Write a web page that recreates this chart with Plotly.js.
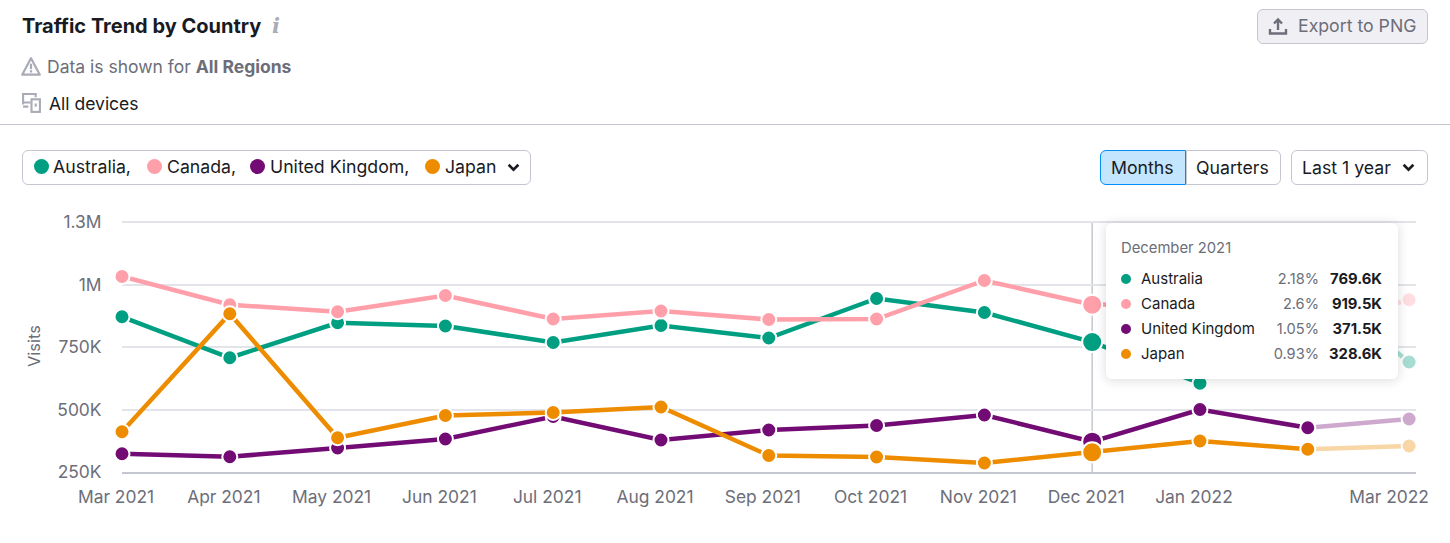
<!DOCTYPE html>
<html><head><meta charset="utf-8">
<script src="https://cdn.plot.ly/plotly-3.0.1.min.js"></script>
<style>
html,body{margin:0;padding:0;background:#fff;width:1450px;height:543px;overflow:hidden;font-family:Inter,sans-serif;}
#chart{position:absolute;left:0;top:0;width:1450px;height:543px;}
.t{position:absolute;white-space:nowrap;line-height:20px;color:#191B23;font-size:17.5px;}
.c{font-size:17.7px;}
.box{position:absolute;box-sizing:border-box;border:1px solid #C4C7CF;border-radius:6px;background:#fff;}
.dot{position:absolute;border-radius:50%;}
svg.i{position:absolute;overflow:visible;}
#tip{position:absolute;left:1106px;top:223px;width:292px;height:156px;background:#fff;border-radius:6px;box-shadow:0 1px 12px rgba(25,27,35,.16);}
</style></head><body>
<div id="chart"></div>

<div class="t" style="left:22px;top:16px;font-size:20px;font-weight:700;line-height:20px">Traffic Trend by Country</div>
<div class="t" style="left:272px;top:16px;font-size:21px;font-weight:700;font-style:italic;font-family:'DejaVu Serif',serif;color:#A9ABB6">i</div>
<svg class="i" style="left:21px;top:56px" width="20" height="22" viewBox="0 0 18 20"><path d="M9 2 L17 17 H1 Z" fill="none" stroke="#A9ABB6" stroke-width="2" stroke-linejoin="round"/><rect x="8" y="7" width="2" height="5" fill="#A9ABB6"/><rect x="8" y="13" width="2" height="2" fill="#A9ABB6"/></svg>
<div class="t" style="left:47px;top:57px;color:#6C6E79">Data is shown for <b>All Regions</b></div>
<svg class="i" style="left:21px;top:93px" width="21" height="21" viewBox="0 0 20 20"><path d="M9 9H2V1H14V4" fill="none" stroke="#A9ABB6" stroke-width="2"/><path d="M2 13H7M2 9V11" fill="none" stroke="#A9ABB6" stroke-width="2"/><rect x="10" y="6" width="8" height="12" fill="none" stroke="#A9ABB6" stroke-width="2"/><rect x="13" y="10" width="2" height="3" fill="#A9ABB6"/></svg>
<div class="t" style="left:49px;top:94px">All devices</div>
<div style="position:absolute;left:0;top:124px;width:1450px;height:1px;background:#C4C7CF"></div>

<div class="box" style="left:1257px;top:9px;width:171px;height:35px;background:#F0F0F4"></div>
<svg class="i" style="left:1269px;top:17px" width="18" height="18" viewBox="0 0 18 18"><path d="M9 13V3M5 6.5L9 2.5L13 6.5" fill="none" stroke="#6C6E79" stroke-width="2.4"/><path d="M1 12V16.5H17V12" fill="none" stroke="#6C6E79" stroke-width="2.4"/></svg>
<div class="t c" style="left:1298px;top:16px;color:#6C6E79">Export to PNG</div>

<div class="box" style="left:22px;top:150px;width:509px;height:35px"></div>
<div id="legend"></div>
<svg class="i" style="left:507px;top:163px" width="13" height="9" viewBox="0 0 12 8"><path d="M1.5 1.5L6 6L10.5 1.5" fill="none" stroke="#191B23" stroke-width="2.4"/></svg>

<div class="box" style="left:1186px;top:150px;width:95px;height:35px;border-radius:0 6px 6px 0"></div>
<div class="box" style="left:1100px;top:150px;width:86px;height:35px;background:#C4E5FE;border-color:#008FF8;border-radius:6px 0 0 6px"></div>
<div class="t c" style="left:1111px;top:158px">Months</div>
<div class="t c" style="left:1196px;top:158px">Quarters</div>
<div class="box" style="left:1291px;top:150px;width:137px;height:35px"></div>
<div class="t c" style="left:1302px;top:158px">Last 1 year</div>
<svg class="i" style="left:1402px;top:163px" width="13" height="9" viewBox="0 0 12 8"><path d="M1.5 1.5L6 6L10.5 1.5" fill="none" stroke="#191B23" stroke-width="2.4"/></svg>

<div id="tip"></div>

<script>
// Month slots as the chart spaces them: equal steps, with the last (partial) month a little short
const monthSlots = [0,1,2,3,4,5,6,7,8,9,10,11,11.94];
const australia = [871000,707000,847000,834000,768000,836000,786000,944000,888000,769600,605000,1010000,690000];
const canada    = [1032000,919000,891000,956000,862000,894000,860000,862000,1016000,919500,925000,830000,939000];
const uk        = [323000,311000,346000,382000,472000,378000,418000,436000,478000,371500,500000,427000,462000];
const japan     = [411000,883000,387000,476000,488000,510000,316000,310000,286000,328600,374000,341000,354000];

const seriesNames  = ["Australia","Canada","United Kingdom","Japan"];
const seriesColors = ["#009F81","#FF9FA9","#720C74","#EE8C00"];
const tipPercents  = ["2.18%","2.6%","1.05%","0.93%"];
const tipValues    = ["769.6K","919.5K","371.5K","328.6K"];
const tipTitle     = "December 2021";
const hoverSlot    = 9;

const yTickVals = [250000,500000,750000,1000000,1250000];
const yTickText = ["250K","500K","750K","1M","1.3M"];
const xTickVals = [0,1,2,3,4,5,6,7,8,9,10,11.81];
const xTickText = ["Mar 2021","Apr 2021","May 2021","Jun 2021","Jul 2021","Aug 2021","Sep 2021","Oct 2021","Nov 2021","Dec 2021","Jan 2022","Mar 2022"];

const allValues = [australia,canada,uk,japan];
const traces = [];
const lastSolid = monthSlots.length - 1;
allValues.forEach((v,i)=>{
  traces.push({x:monthSlots.slice(lastSolid-1),y:v.slice(lastSolid-1),type:"scatter",mode:"lines+markers",opacity:0.35,showlegend:false,hoverinfo:"skip",cliponaxis:false,
    line:{color:seriesColors[i],width:4.5},
    marker:{color:seriesColors[i],opacity:1,size:15,line:{color:"#fff",width:2}}});
});
allValues.forEach((v,i)=>{
  const xs = monthSlots.slice(0,lastSolid), ys = v.slice(0,lastSolid);
  traces.push({x:xs,y:ys,name:seriesNames[i],type:"scatter",mode:"lines+markers",showlegend:false,hoverinfo:"skip",cliponaxis:false,
    line:{color:seriesColors[i],width:4.5},
    marker:{color:seriesColors[i],opacity:1,size:xs.map(s=>s===hoverSlot?20:15),line:{color:"#fff",width:2}}});
});

const layout = {
  width:1450,height:543,
  margin:{l:122,r:34,t:220,b:71,pad:0},
  paper_bgcolor:"rgba(0,0,0,0)",plot_bgcolor:"rgba(0,0,0,0)",
  showlegend:false,
  font:{family:"Inter, sans-serif",size:17.4,color:"#6C6E79"},
  xaxis:{range:[0,12.004],tickmode:"array",tickvals:xTickVals,ticktext:xTickText,
    showgrid:false,zeroline:false,showline:true,linecolor:"#C4C7CF",linewidth:2,ticks:"outside",ticklen:8,tickcolor:"rgba(0,0,0,0)",ticklabelshift:-6,
    tickfont:{size:17.4,color:"#6C6E79"},automargin:false},
  yaxis:{range:[250000,1258000],tickmode:"array",tickvals:yTickVals,ticktext:yTickText,
    showgrid:true,gridcolor:"#E3E4EA",gridwidth:2,zeroline:false,showline:false,ticks:"outside",ticklen:16,tickcolor:"rgba(0,0,0,0)",
    tickfont:{size:17.4,color:"#6C6E79"},automargin:false,
    title:{text:"Visits",font:{size:16.5,color:"#6C6E79"},standoff:12}},
  shapes:[{type:"line",xref:"x",yref:"y",x0:hoverSlot,x1:hoverSlot,y0:250000,y1:1250000,layer:"below",line:{color:"#C4C7CF",width:1.5}}]
};
Plotly.newPlot("chart",traces,layout,{displayModeBar:false,staticPlot:true});

const legendLabels = ["Australia,","Canada,","United Kingdom,","Japan"];
const legendDotX = [41,154,257,432];
const legendTextX = [53,167,270,445];
const lg = document.getElementById("legend");
legendLabels.forEach((s,i)=>{
  lg.insertAdjacentHTML("beforeend",`<div class="dot" style="left:${legendDotX[i]-7.5}px;top:158.5px;width:15px;height:15px;background:${seriesColors[i]}"></div><div class="t c" style="left:${legendTextX[i]}px;top:157px">${s}</div>`);
});

const tip = document.getElementById("tip");
let h = `<div class="t" style="left:15px;top:15px;font-size:14.8px;color:#6C6E79">${tipTitle}</div>`;
seriesNames.forEach((s,i)=>{
  const top = 51+25*i;
  h += `<div class="dot" style="left:15px;top:${top}px;width:10px;height:10px;background:${seriesColors[i]}"></div>`;
  h += `<div class="t" style="left:35px;top:${top-5}px;font-size:15px">${s}</div>`;
  h += `<div class="t" style="right:79px;top:${top-5}px;font-size:14.6px;color:#6C6E79">${tipPercents[i]}</div>`;
  h += `<div class="t" style="right:16px;top:${top-5}px;font-size:14.8px;font-weight:700">${tipValues[i]}</div>`;
});
tip.innerHTML = h;
</script>
</body></html>
